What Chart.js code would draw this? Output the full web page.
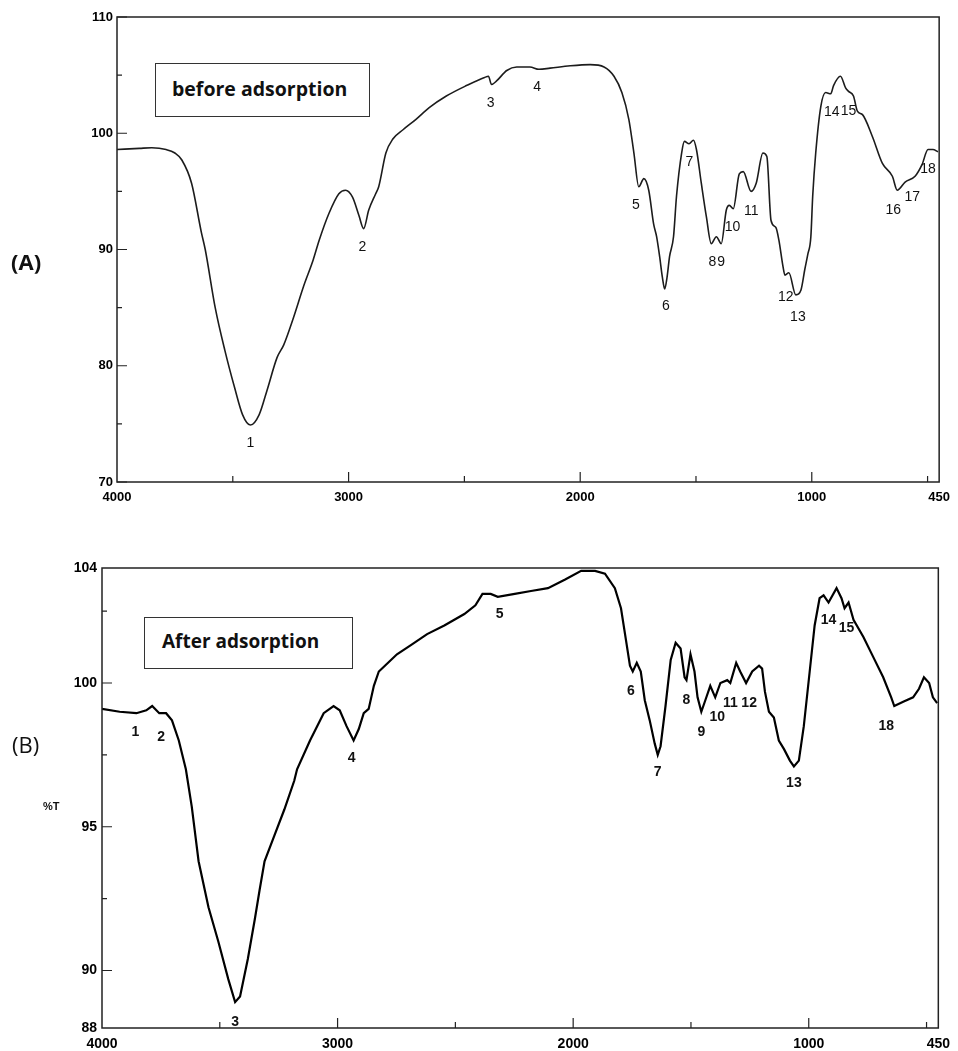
<!DOCTYPE html>
<html>
<head>
<meta charset="utf-8">
<script src="https://cdn.jsdelivr.net/npm/chart.js@4.4.0/dist/chart.umd.min.js"></script>
<style>
  body { margin: 0; background: #fff; }
  .page { position: relative; width: 958px; height: 1051px; overflow: hidden; background: #fff; }
  .page canvas { position: absolute; left: 0; }
  #chartA { top: 0; }
  #chartB { top: 530px; }
  .note { position: absolute; box-sizing: border-box; border: 1px solid #333; background: #fff;
          font-family: 'Open Sans', sans-serif; font-weight: bold; color: #111; white-space: nowrap; }
  .side { position: absolute; font-family: 'Open Sans', sans-serif; color: #111; line-height: 1; }
</style>
</head>
<body>
<div class="page">
  <canvas id="chartA" width="958" height="520"></canvas>
  <canvas id="chartB" width="958" height="521"></canvas>
  <div class="note" style="left:155px;top:63px;width:215px;height:54px;font-size:19.5px;line-height:50px;padding-left:16px;">before adsorption</div>
  <div class="note" style="left:144px;top:617px;width:209px;height:52px;font-size:19px;line-height:46px;padding-left:17px;">After adsorption</div>
  <div class="side" style="left:11px;top:250px;font-size:22px;font-weight:bold;">(A)</div>
  <div class="side" style="left:12px;top:733px;font-size:22px;">(B)</div>
  <div class="side" style="left:43px;top:801px;font-size:11px;font-weight:bold;font-family:'Liberation Sans',sans-serif;">%T</div>
</div>
<script>
// FTIR spectra of the adsorbent before (A) and after (B) adsorption
// wavenumber (cm-1) vs transmittance (%T)

// ---- (A) before adsorption ----
const waveA = [
  4000, 3903, 3850, 3788, 3750, 3720, 3678, 3636, 3619, 3576,
  3534, 3492, 3458, 3424, 3386, 3352, 3309, 3280, 3237, 3195,
  3153, 3127, 3085, 3042, 3013, 2983, 2955, 2935, 2913, 2883,
  2870, 2839, 2809, 2765, 2709, 2652, 2578, 2491, 2413, 2396,
  2383, 2361, 2317, 2274, 2217, 2178, 2130, 2043, 1957, 1897,
  1854, 1820, 1790, 1768, 1747, 1725, 1704, 1683, 1670, 1657,
  1645, 1635, 1625, 1614, 1597, 1584, 1562, 1550, 1530, 1511,
  1498, 1477, 1455, 1434, 1412, 1391, 1369, 1356, 1339, 1313,
  1296, 1262, 1240, 1211, 1194, 1176, 1155, 1142, 1124, 1116,
  1099, 1069, 1047, 1030, 1017, 1004, 996, 983, 961, 940,
  918, 906, 876, 854, 841, 820, 803, 781, 738, 695,
  652, 631, 597, 554, 524, 498, 477, 455
];
const transA = [
  98.6, 98.7, 98.75, 98.6, 98.3, 97.7, 95.7, 91.5, 90.0, 85.0,
  81.3, 78.1, 75.8, 74.9, 75.8, 77.9, 80.7, 81.8, 84.2, 86.8,
  89.1, 90.8, 93.1, 94.8, 95.1, 94.5, 92.9, 91.8, 93.4, 94.8,
  95.4, 98.3, 99.5, 100.3, 101.2, 102.2, 103.2, 104.1, 104.8, 104.9,
  104.2, 104.5, 105.4, 105.7, 105.7, 105.5, 105.6, 105.8, 105.9, 105.7,
  104.9, 103.5, 101.2, 98.3, 95.4, 96.1, 95.1, 92.2, 91.1, 89.4,
  87.6, 86.6, 87.6, 89.4, 91.1, 94.6, 98.3, 99.3, 99.1, 99.4,
  98.6, 95.7, 92.8, 90.5, 91.1, 90.5, 93.4, 93.8, 93.5, 96.5,
  96.7, 95.0, 95.7, 98.3, 98.0, 92.5, 91.9, 90.8, 88.5, 87.8,
  88.0, 86.1, 86.5, 88.3, 89.6, 91.1, 94.6, 98.3, 102.3, 103.5,
  103.4, 104.1, 104.9, 103.9, 103.6, 103.2, 101.9, 101.6, 99.7, 97.4,
  96.3, 95.1, 95.8, 96.3, 97.3, 98.6, 98.6, 98.4
];
const peakNumA   = ['1', '2', '3', '4', '5', '6', '7', '8', '9', '10', '11', '12', '13', '14', '15', '16', '17', '18'];
const peakWaveA  = [3424, 2940, 2387, 2186, 1760, 1630, 1528, 1429, 1391, 1342, 1261, 1112, 1060, 914, 841, 648, 566, 498];
const peakTransA = [73.3, 90.2, 102.6, 104.0, 93.8, 85.1, 97.5, 88.9, 88.9, 91.9, 93.3, 85.9, 84.2, 101.8, 101.9, 93.4, 94.5, 96.9];

// ---- (B) after adsorption ----
const waveB = [
  4000, 3925, 3854, 3812, 3787, 3757, 3728, 3703, 3674, 3644,
  3619, 3590, 3548, 3506, 3464, 3435, 3414, 3381, 3351, 3331,
  3310, 3268, 3226, 3184, 3172, 3117, 3059, 3017, 2991, 2962,
  2932, 2910, 2889, 2868, 2846, 2825, 2799, 2748, 2692, 2620,
  2547, 2462, 2415, 2385, 2350, 2320, 2248, 2179, 2107, 2034,
  1966, 1907, 1865, 1823, 1797, 1776, 1759, 1747, 1730, 1713,
  1696, 1675, 1654, 1641, 1629, 1608, 1586, 1565, 1544, 1527,
  1519, 1502, 1485, 1472, 1456, 1439, 1418, 1397, 1375, 1346,
  1333, 1308, 1291, 1266, 1240, 1211, 1198, 1186, 1169, 1148,
  1127, 1105, 1080, 1063, 1042, 1021, 996, 975, 954, 937,
  916, 882, 861, 848, 831, 810, 768, 726, 684, 650,
  637, 599, 557, 532, 511, 489, 473, 455
];
const transB = [
  99.1, 99.0, 98.95, 99.05, 99.2, 98.95, 98.95, 98.7, 98.0, 97.0,
  95.7, 93.8, 92.2, 91.0, 89.7, 88.9, 89.1, 90.4, 91.8, 92.8,
  93.8, 94.7, 95.6, 96.6, 97.0, 98.0, 98.95, 99.2, 99.05, 98.5,
  98.0, 98.4, 98.95, 99.1, 99.9, 100.4, 100.6, 101.0, 101.3, 101.7,
  102.0, 102.4, 102.7, 103.1, 103.1, 103.0, 103.1, 103.2, 103.3, 103.6,
  103.9, 103.9, 103.8, 103.3, 102.6, 101.5, 100.6, 100.4, 100.7, 100.4,
  99.4, 98.7, 97.9, 97.5, 97.8, 99.2, 100.8, 101.4, 101.2, 100.2,
  100.1, 101.0, 100.4, 99.5, 99.0, 99.4, 99.9, 99.5, 100.0, 100.1,
  100.0, 100.7, 100.4, 100.0, 100.4, 100.6, 100.5, 99.7, 99.0, 98.8,
  98.0, 97.7, 97.3, 97.1, 97.3, 98.5, 100.4, 102.0, 102.95, 103.05,
  102.8, 103.3, 102.95, 102.6, 102.8, 102.2, 101.6, 100.9, 100.2, 99.5,
  99.2, 99.35, 99.5, 99.8, 100.2, 100.0, 99.5, 99.3
];
const peakNumB   = ['1', '2', '3', '4', '5', '6', '7', '8', '9', '10', '11', '12', '13', '14', '15', '18'];
const peakWaveB  = [3858, 3749, 3435, 2940, 2312, 1755, 1641, 1519, 1456, 1388, 1333, 1253, 1063, 916, 840, 671];
const peakTransB = [98.3, 98.1, 88.2, 97.4, 102.4, 99.7, 96.9, 99.4, 98.3, 98.8, 99.3, 99.3, 96.5, 102.2, 101.9, 98.5];

// ---- axis ticks ----
const xLabels  = [4000, 3000, 2000, 1000, 450];
const xMajor   = [3000, 2000, 1000];
const xMinor   = [3500, 2500, 1500, 500];
const yLabelsA = [70, 80, 90, 100, 110];
const yMinorA  = [75, 85, 95, 105];
const yLabelsB = [88, 90, 95, 100, 104];
const yMajorB  = [90, 95, 100];
const yMinorB  = [92.5, 97.5, 102.5];

// frame, inward tick marks and numbered peak labels
function decor(cfg) {
    return {
        id: 'decor',
        afterDraw: function (chart) {
            const ctx = chart.ctx, a = chart.chartArea;
            const x = chart.scales.x, y = chart.scales.y;
            ctx.save();
            ctx.strokeStyle = '#222';
            ctx.lineWidth = 1.5;
            ctx.strokeRect(a.left, a.top, a.right - a.left, a.bottom - a.top);
            ctx.lineWidth = 1.2;
            ctx.beginPath();
            xMajor.forEach(function (v) {
                const p = x.getPixelForValue(v);
                ctx.moveTo(p, a.bottom); ctx.lineTo(p, a.bottom - 10);
            });
            xMinor.forEach(function (v) {
                const p = x.getPixelForValue(v);
                ctx.moveTo(p, a.bottom); ctx.lineTo(p, a.bottom - 6);
            });
            cfg.yMajor.forEach(function (v) {
                const p = y.getPixelForValue(v);
                ctx.moveTo(a.left, p); ctx.lineTo(a.left + 10, p);
            });
            cfg.yMinor.forEach(function (v) {
                const p = y.getPixelForValue(v);
                ctx.moveTo(a.left, p); ctx.lineTo(a.left + 5, p);
            });
            ctx.stroke();
            ctx.font = cfg.peakFont;
            ctx.fillStyle = '#111';
            ctx.textAlign = 'center';
            ctx.textBaseline = 'middle';
            cfg.num.forEach(function (t, i) {
                ctx.fillText(t, x.getPixelForValue(cfg.wave[i]), y.getPixelForValue(cfg.trans[i]));
            });
            ctx.restore();
        }
    };
}

function makeChart(id, wave, trans, o) {
    return new Chart(document.getElementById(id), {
        type: 'line',
        data: {
            datasets: [{
                data: wave.map(function (w, i) { return { x: w, y: trans[i] }; }),
                borderColor: o.lineColor,
                borderWidth: o.lineWidth,
                pointRadius: 0,
                tension: o.tension,
                cubicInterpolationMode: o.mono ? 'monotone' : 'default',
                fill: false
            }]
        },
        options: {
            responsive: false,
            animation: false,
            devicePixelRatio: 1,
            layout: { padding: { left: 0, right: 18, top: o.top, bottom: 0 } },
            plugins: { legend: { display: false }, tooltip: { enabled: false } },
            scales: {
                x: {
                    type: 'linear', reverse: true, min: 450, max: 4000,
                    grid: { display: false, drawTicks: false },
                    border: { display: false },
                    afterBuildTicks: function (s) { s.ticks = xLabels.map(function (v) { return { value: v }; }); },
                    afterFit: function (s) { s.height = o.xHeight; },
                    ticks: { color: '#000', padding: o.xPad, maxRotation: 0, autoSkip: false,
                             font: o.tickFont, callback: function (v) { return String(v); } }
                },
                y: {
                    min: o.yMin, max: o.yMax,
                    grid: { display: false, drawTicks: false },
                    border: { display: false },
                    afterBuildTicks: function (s) { s.ticks = o.yLabels.map(function (v) { return { value: v }; }); },
                    afterFit: function (s) { s.width = o.yWidth; },
                    ticks: { color: '#000', padding: o.yPad, autoSkip: false,
                             font: o.tickFont, callback: function (v) { return String(v); } }
                }
            }
        },
        plugins: [decor(o.decor)]
    });
}

makeChart('chartA', waveA, transA, {
    lineColor: '#1c1c1c', lineWidth: 1.6, tension: 0.4, mono: true,
    top: 17, xHeight: 38, yWidth: 117, xPad: 8, yPad: 4,
    yMin: 70, yMax: 110, yLabels: yLabelsA,
    tickFont: { family: 'Liberation Sans', size: 13, weight: 'bold' },
    decor: { yMajor: yLabelsA, yMinor: yMinorA, peakFont: '14px "Liberation Sans"',
             num: peakNumA, wave: peakWaveA, trans: peakTransA }
});

makeChart('chartB', waveB, transB, {
    lineColor: '#000', lineWidth: 2.2, tension: 0, mono: false,
    top: 38, xHeight: 23, yWidth: 102, xPad: 8, yPad: 5,
    yMin: 88, yMax: 104, yLabels: yLabelsB,
    tickFont: { family: 'Liberation Sans', size: 14, weight: 'bold' },
    decor: { yMajor: yMajorB, yMinor: yMinorB, peakFont: 'bold 14px "Liberation Sans"',
             num: peakNumB, wave: peakWaveB, trans: peakTransB }
});
</script>
</body>
</html>
